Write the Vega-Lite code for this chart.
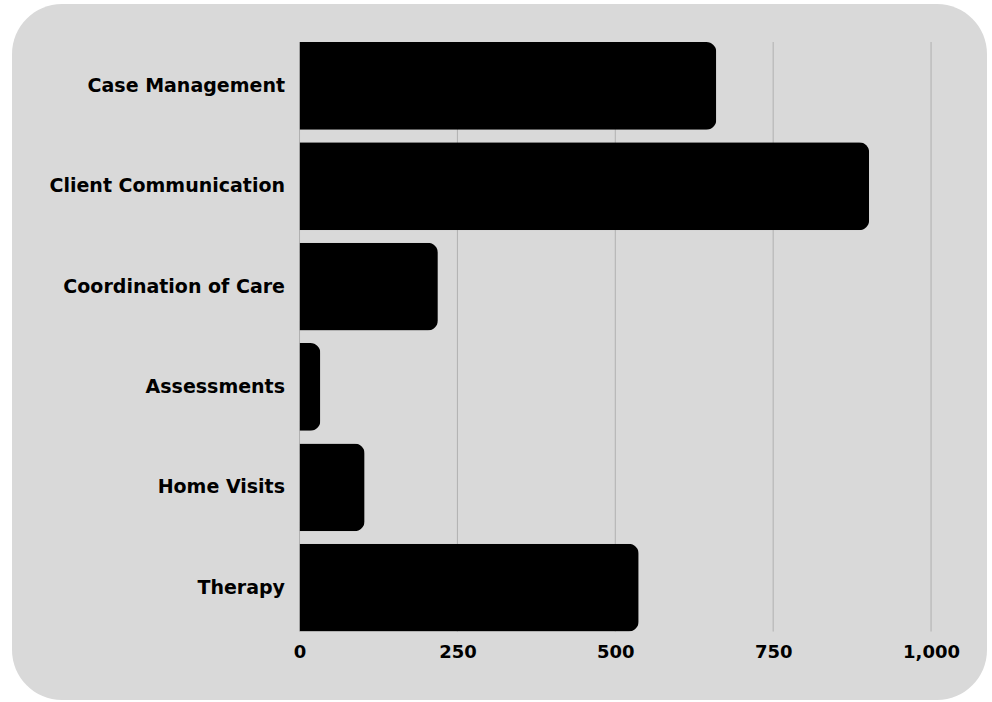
{
  "$schema": "https://vega.github.io/schema/vega-lite/v6.json",
  "autosize": {"type": "none"},
  "width": 975,
  "height": 696,
  "padding": {"left": 12, "top": 4, "right": 5, "bottom": 2},
  "background": "#ffffff",
  "config": {
    "view": {"fill": "#d9d9d9", "stroke": null, "cornerRadius": 50},
    "font": "DejaVu Sans"
  },
  "data": {
    "values": [
      {"category": "Case Management", "value": 660},
      {"category": "Client Communication", "value": 902},
      {"category": "Coordination of Care", "value": 219},
      {"category": "Assessments", "value": 33},
      {"category": "Home Visits", "value": 103},
      {"category": "Therapy", "value": 537}
    ]
  },
  "layer": [
    {
      "data": {"values": [{"g": 0}, {"g": 250}, {"g": 500}, {"g": 750}, {"g": 1000}]},
      "mark": {"type": "rule", "color": "#b0b0b0", "strokeWidth": 1},
      "encoding": {
        "x": {"field": "g", "type": "quantitative"},
        "y": {"datum": "Case Management", "type": "nominal", "bandPosition": 0},
        "y2": {"datum": "Therapy", "bandPosition": 1}
      }
    },
    {
      "mark": {"type": "bar", "color": "#000000", "cornerRadiusEnd": 10},
      "encoding": {
        "y": {
          "field": "category",
          "type": "nominal",
          "sort": null,
          "scale": {
            "domain": ["Case Management", "Client Communication", "Coordination of Care", "Assessments", "Home Visits", "Therapy"],
            "paddingInner": 0.125, "paddingOuter": 0.5305, "align": 0.357
          },
          "axis": {
            "title": null,
            "offset": -287.5,
            "domain": false,
            "ticks": false,
            "labelPadding": 15,
            "labelFontSize": 19,
            "labelFontWeight": "bold",
            "labelColor": "#000000",
            "labelLimit": 400
          }
        },
        "x": {
          "field": "value",
          "type": "quantitative",
          "scale": {"domain": [-455.3, 1088.6], "nice": false, "zero": false},
          "axis": {
            "title": null,
            "offset": -68.3,
            "values": [0, 250, 500, 750, 1000],
            "format": ",.0f",
            "grid": false,
            "domain": false,
            "ticks": false,
            "labelPadding": 12,
            "labelFontSize": 18,
            "labelFontWeight": "bold",
            "labelColor": "#000000"
          }
        }
      }
    }
  ]
}
